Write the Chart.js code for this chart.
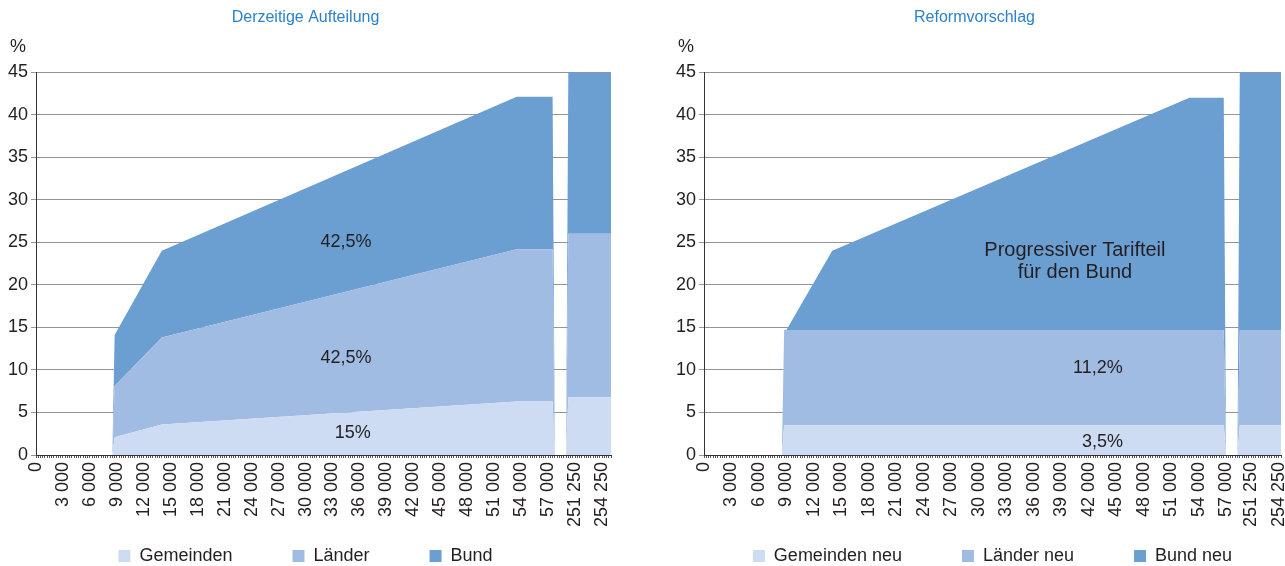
<!DOCTYPE html>
<html>
<head>
  <title>Aufteilung der Einkommensteuer</title>
  <script src="https://cdn.jsdelivr.net/npm/chart.js"></script>
  <style>
    body {
      margin: 0;
      padding: 0;
      width: 1285px;
      height: 566px;
      overflow: hidden;
      background: #fff;
      position: relative;
    }
    #leftChart { position: absolute; left: 0; top: 0; }
    #rightChart { position: absolute; left: 668px; top: 0; }
  </style>
</head>
<body>
  <canvas id="leftChart" width="620" height="575"></canvas>
  <canvas id="rightChart" width="617" height="575"></canvas>
  <script>
    // income categories, steps of 250, in two blocks (axis jumps from ~57 000 to ~250 000)
    const step = 250;
    const leftBlocks = [[0, 57500], [249000, 255250]];
    const rightBlocks = [[0, 57000], [248750, 254500]];
    const tickLabels = [0, 3000, 6000, 9000, 12000, 15000, 18000, 21000, 24000, 27000, 30000,
      33000, 36000, 39000, 42000, 45000, 48000, 51000, 54000, 57000, 251250, 254250];

    // Derzeitige Aufteilung: share of the tax rate (%) at the break points
    const leftIncome = [0, 8500, 8750, 14000, 53500, 57500, 249000, 250250, 250500, 255250];
    const gemeinden  = [0, 0, 2.1, 3.6, 6.3, 6.3, 0, 0, 6.8, 6.8];
    const laender    = [0, 0, 6.0, 10.2, 17.9, 17.9, 0, 0, 19.2, 19.2];
    const bund       = [0, 0, 6.0, 10.2, 17.9, 17.9, 0, 0, 19.2, 19.2];

    // Reformvorschlag
    const rightIncome  = [0, 8500, 8750, 9000, 14000, 53000, 56750, 57000, 249750, 250000, 254500];
    const gemeindenNeu = [0, 0, 3.5, 3.5, 3.5, 3.5, 3.5, 0, 0, 3.5, 3.5];
    const laenderNeu   = [0, 0, 11.2, 11.2, 11.2, 11.2, 11.2, 0, 0, 11.2, 11.2];
    const bundNeu      = [0, 0, 0, 0, 9.3, 27.3, 27.3, 0, 0, 30.5, 30.5];

    const leftNotes = [
      { income: 34500, y: 25.0, size: 18, lines: ['42,5%'] },
      { income: 34500, y: 11.4, size: 18, lines: ['42,5%'] },
      { income: 35250, y: 2.6, size: 18, lines: ['15%'] }
    ];
    const rightNotes = [
      { income: 40500, y: 24.1, size: 20, lines: ['Progressiver Tarifteil', 'für den Bund'] },
      { income: 43000, y: 10.2, size: 18, lines: ['11,2%'] },
      { income: 43500, y: 1.5, size: 18, lines: ['3,5%'] }
    ];

    const colors = ['#cddbf3', '#a1bce3', '#6b9ed1'];
    const textColor = '#231f20';
    const fontFamily = '"Liberation Sans", Arial, sans-serif';

    Chart.defaults.font.family = fontFamily;
    Chart.defaults.color = textColor;

    function buildCats(blocks) {
      const cats = [];
      blocks.forEach(([from, to]) => {
        for (let v = from; v <= to; v += step) cats.push(v);
      });
      return cats;
    }

    // put the break point values on their categories, the rest stays empty (spanGaps joins them)
    function spread(cats, incomes, values) {
      return cats.map(c => {
        const i = incomes.indexOf(c);
        return i < 0 ? null : values[i];
      });
    }

    function fmt(n) {
      return String(n).replace(/\B(?=(\d{3})+(?!\d))/g, ' ');
    }

    function notesPlugin(notes) {
      return {
        id: 'notes',
        afterDatasetsDraw(chart) {
          const { ctx, chartArea } = chart;
          const x = chart.scales.x, y = chart.scales.y;
          ctx.save();
          ctx.fillStyle = textColor;
          ctx.textAlign = 'center';
          ctx.textBaseline = 'middle';
          notes.forEach(n => {
            ctx.font = n.size + 'px ' + fontFamily;
            const px = x.getPixelForValue(chart.data.labels.indexOf(n.income));
            n.lines.forEach((t, k) => ctx.fillText(t, px, y.getPixelForValue(n.y) + k * 22));
          });
          // unit above the y axis
          ctx.font = '18px ' + fontFamily;
          ctx.fillText('%', chartArea.left - 18, chartArea.top - 25);
          ctx.restore();
        }
      };
    }

    // wider gaps between legend entries
    function legendLabels(chart) {
      const items = Chart.defaults.plugins.legend.labels.generateLabels(chart);
      items.forEach((it, i) => {
        if (i < items.length - 1) it.text += '          ';
      });
      return items;
    }

    function makeChart(id, title, blocks, incomes, series, notes, padRight, legendFull) {
      const cats = buildCats(blocks);
      new Chart(document.getElementById(id), {
        type: 'line',
        data: {
          labels: cats,
          datasets: series.map((s, i) => ({
            label: s.label,
            data: spread(cats, incomes, s.values),
            backgroundColor: colors[i],
            borderColor: colors[i],
            borderWidth: 0,
            pointRadius: 0,
            tension: 0,
            spanGaps: true,
            fill: i === 0 ? 'origin' : '-1'
          }))
        },
        options: {
          responsive: false,
          animation: false,
          layout: { padding: { left: 0, right: padRight, top: 0, bottom: 0 } },
          scales: {
            x: {
              offset: false,
              grid: { drawOnChartArea: false, drawTicks: true, tickLength: 3, color: '#555' },
              border: { color: '#333' },
              ticks: {
                autoSkip: false,
                minRotation: 90,
                maxRotation: 90,
                padding: 4,
                font: { size: 18 },
                callback: function (v) {
                  const lab = this.getLabelForValue(v);
                  return tickLabels.includes(lab) ? fmt(lab) : '';
                }
              },
              afterFit: s => {
                s.height = 82;
                s.paddingLeft = 0;
                s.paddingRight = 0;
              }
            },
            y: {
              stacked: true,
              min: 0,
              max: 45,
              ticks: { stepSize: 5, padding: 3, font: { size: 18 } },
              grid: { color: '#959595', tickLength: 5 },
              border: { color: '#333' },
              afterFit: s => { s.width = 36; }
            }
          },
          plugins: {
            title: {
              display: true,
              text: title,
              color: '#2b82c9',
              font: { size: 16, weight: 'normal' },
              padding: { top: 8, bottom: 45 }
            },
            legend: {
              position: 'bottom',
              fullSize: legendFull,
              labels: { boxWidth: 12, boxHeight: 12, padding: 10, font: { size: 18 }, generateLabels: legendLabels }
            },
            tooltip: { enabled: false }
          }
        },
        plugins: [notesPlugin(notes)]
      });
    }

    makeChart('leftChart', 'Derzeitige Aufteilung', leftBlocks, leftIncome, [
      { label: 'Gemeinden', values: gemeinden },
      { label: 'Länder', values: laender },
      { label: 'Bund', values: bund }
    ], leftNotes, 9, true);

    makeChart('rightChart', 'Reformvorschlag', rightBlocks, rightIncome, [
      { label: 'Gemeinden neu', values: gemeindenNeu },
      { label: 'Länder neu', values: laenderNeu },
      { label: 'Bund neu', values: bundNeu }
    ], rightNotes, 4, false);
  </script>
</body>
</html>
